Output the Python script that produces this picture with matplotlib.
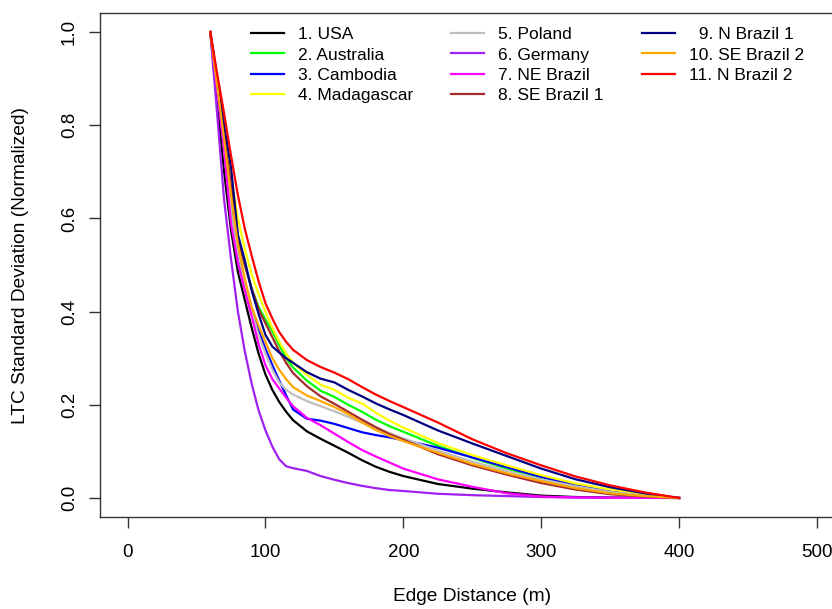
import matplotlib
matplotlib.use('Agg')
import matplotlib.pyplot as plt

plt.rcParams['font.family'] = ['Liberation Sans', 'DejaVu Sans']

distance = [60, 65, 70, 75, 80, 85, 90, 95, 100, 105, 110, 115, 120, 130, 140,
            150, 160, 170, 180, 190, 200, 225, 250, 275, 300, 325, 350, 375, 400]

usa = [1.0, 0.85, 0.70, 0.575, 0.485, 0.425, 0.365, 0.31, 0.265, 0.232, 0.206, 0.185,
       0.167, 0.143, 0.127, 0.112, 0.097, 0.081, 0.067, 0.056, 0.047, 0.030, 0.020,
       0.012, 0.005, 0.002, 0.001, 0.0005, 0.0]
australia = [1.0, 0.89, 0.78, 0.665, 0.555, 0.50, 0.45, 0.41, 0.383, 0.358, 0.328, 0.30,
             0.28, 0.252, 0.23, 0.217, 0.20, 0.185, 0.168, 0.154, 0.142, 0.112, 0.086,
             0.063, 0.042, 0.026, 0.014, 0.006, 0.0]
cambodia = [1.0, 0.88, 0.76, 0.625, 0.53, 0.46, 0.405, 0.36, 0.32, 0.285, 0.252, 0.22,
            0.19, 0.17, 0.166, 0.159, 0.15, 0.141, 0.135, 0.13, 0.124, 0.108, 0.087,
            0.066, 0.045, 0.028, 0.015, 0.006, 0.0]
madagascar = [1.0, 0.895, 0.79, 0.69, 0.60, 0.535, 0.48, 0.437, 0.40, 0.365, 0.335, 0.31,
              0.29, 0.264, 0.243, 0.232, 0.215, 0.203, 0.183, 0.166, 0.151, 0.118, 0.092,
              0.07, 0.049, 0.031, 0.018, 0.008, 0.0]
poland = [1.0, 0.88, 0.76, 0.62, 0.53, 0.46, 0.40, 0.35, 0.31, 0.275, 0.248, 0.232,
          0.222, 0.208, 0.197, 0.186, 0.174, 0.162, 0.151, 0.139, 0.128, 0.102, 0.078,
          0.058, 0.04, 0.025, 0.013, 0.005, 0.0]
germany = [1.0, 0.823, 0.64, 0.513, 0.40, 0.315, 0.245, 0.188, 0.145, 0.11, 0.083, 0.068,
           0.064, 0.058, 0.047, 0.039, 0.032, 0.026, 0.021, 0.017, 0.015, 0.009, 0.006,
           0.004, 0.002, 0.001, 0.0005, 0.0002, 0.0]
ne_brazil = [1.0, 0.875, 0.745, 0.59, 0.505, 0.445, 0.39, 0.33, 0.285, 0.255, 0.235, 0.215,
             0.197, 0.172, 0.156, 0.138, 0.12, 0.103, 0.089, 0.076, 0.063, 0.040, 0.024,
             0.010, 0.003, 0.001, 0.0005, 0.0002, 0.0]
se_brazil_1 = [1.0, 0.89, 0.78, 0.67, 0.56, 0.50, 0.45, 0.405, 0.375, 0.345, 0.315, 0.29,
               0.268, 0.24, 0.218, 0.202, 0.185, 0.168, 0.152, 0.137, 0.125, 0.094, 0.07,
               0.05, 0.032, 0.018, 0.008, 0.003, 0.0]
n_brazil_1 = [1.0, 0.90, 0.80, 0.71, 0.565, 0.51, 0.445, 0.395, 0.35, 0.325, 0.312, 0.30,
              0.29, 0.27, 0.256, 0.248, 0.232, 0.218, 0.203, 0.19, 0.178, 0.145, 0.117,
              0.09, 0.063, 0.04, 0.023, 0.01, 0.0]
se_brazil_2 = [1.0, 0.885, 0.77, 0.65, 0.545, 0.47, 0.41, 0.37, 0.335, 0.30, 0.275, 0.255,
               0.238, 0.22, 0.208, 0.195, 0.18, 0.162, 0.146, 0.133, 0.122, 0.097, 0.073,
               0.053, 0.036, 0.021, 0.01, 0.004, 0.0]
n_brazil_2 = [1.0, 0.91, 0.825, 0.735, 0.65, 0.578, 0.52, 0.465, 0.418, 0.385, 0.356, 0.335,
              0.318, 0.296, 0.281, 0.269, 0.255, 0.238, 0.222, 0.208, 0.195, 0.162, 0.126,
              0.096, 0.07, 0.046, 0.027, 0.012, 0.0]

labels = ['1. USA', '2. Australia', '3. Cambodia', '4. Madagascar',
          '5. Poland', '6. Germany', '7. NE Brazil', '8. SE Brazil 1',
          '  9. N Brazil 1', '10. SE Brazil 2', '11. N Brazil 2']
series = [usa, australia, cambodia, madagascar, poland, germany, ne_brazil,
          se_brazil_1, n_brazil_1, se_brazil_2, n_brazil_2]
colors = ['black', '#00FF00', '#0000FF', '#FFFF00', '#BEBEBE', '#A020F0',
          '#FF00FF', '#A52A2A', '#000080', '#FFA500', '#FF0000']

fig = plt.figure(figsize=(8.32, 6.09), dpi=100)
# plot region runs past the right edge of the picture, as in the original
ax = fig.add_axes([100 / 832, 92.4 / 609, 744.6 / 832, 503.2 / 609])

for ys, c, lab in zip(series, colors, labels):
    ax.plot(distance, ys, color=c, lw=1.6, label=lab)

ax.set_xlim(-20, 520)
ax.set_ylim(-0.04, 1.04)
ax.set_xticks([0, 100, 200, 300, 400, 500])
ax.set_yticks([0.0, 0.2, 0.4, 0.6, 0.8, 1.0])
ax.set_yticklabels(['0.0', '0.2', '0.4', '0.6', '0.8', '1.0'])

for sp in ax.spines.values():
    sp.set_color('#333333')
    sp.set_linewidth(1.0)
ax.tick_params(axis='both', direction='out', length=8, width=1.0, color='#333333',
               labelsize=13.5)
ax.tick_params(axis='x', pad=12)
ax.tick_params(axis='y', pad=8, labelrotation=90)
for t in ax.get_yticklabels():
    t.set_va('center')

ax.set_xlabel('Edge Distance (m)', fontsize=13.8)
ax.set_ylabel('LTC Standard Deviation (Normalized)', fontsize=13.8)
ax.xaxis.set_label_coords(0.5, -0.142)
ax.yaxis.set_label_coords(-0.095, 0.5)

ax.legend(loc='upper left', bbox_to_anchor=(251 / 832, 1 - 27 / 609),
          bbox_transform=fig.transFigure, ncol=3, frameon=False, fontsize=12.5,
          handlelength=1.9, handletextpad=0.8, columnspacing=2.2,
          labelspacing=0.3, borderpad=0, borderaxespad=0)

fig.savefig('out.png', dpi=100)
